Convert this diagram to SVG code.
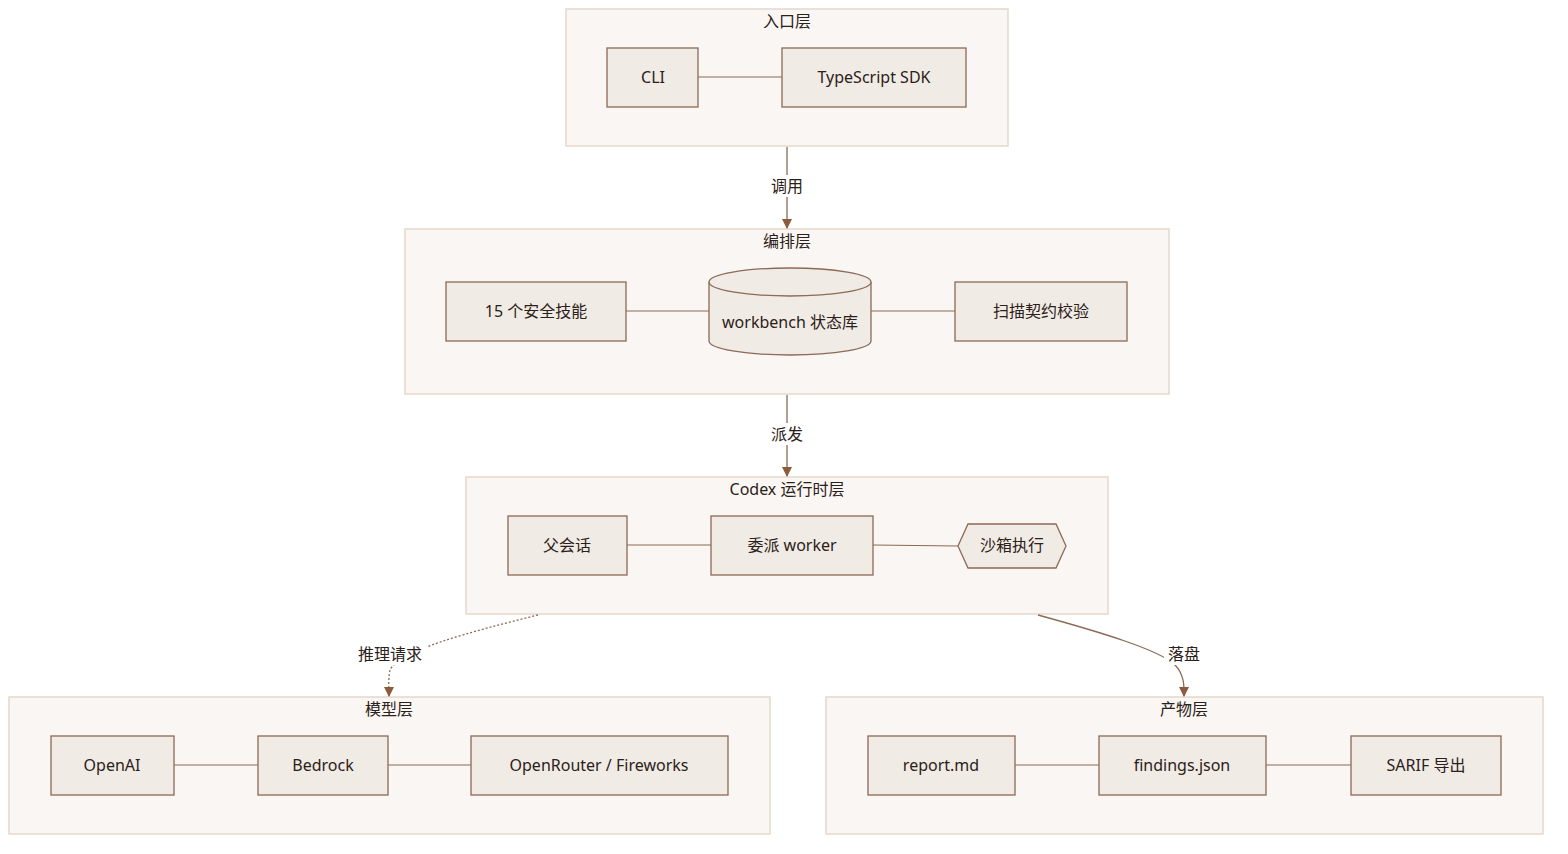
<svg xmlns="http://www.w3.org/2000/svg" width="1568" height="854" viewBox="0 0 1568 854">
<style>
text{font-family:"Noto Sans","Noto Sans CJK SC",sans-serif;font-size:16px;fill:#2b2118;text-anchor:middle;dominant-baseline:central}
.cl{fill:#faf6f3;stroke:#e6d8cc;stroke-width:1.5}
.n{fill:#f1ebe6;stroke:#8c6a55;stroke-width:1.3}
.e{fill:none;stroke:#8c6a55;stroke-width:1.2}
.a{fill:none;stroke:#8c6a55;stroke-width:1.3;marker-end:url(#ar)}
.lb{fill:#fff}
</style>
<defs><marker id="ar" viewBox="0 0 10 10" refX="9" refY="5" markerWidth="8" markerHeight="8" orient="auto"><path d="M0,0L10,5L0,10z" fill="#8c5a3c"/></marker></defs>
<rect width="1568" height="854" fill="#fff"/>
<g id="clusters">
<g id="entry"><rect class="cl" x="566" y="9" width="442" height="137"/><text x="787" y="21">入口层</text></g>
<g id="orch"><rect class="cl" x="405" y="229" width="764" height="165"/><text x="787" y="241">编排层</text></g>
<g id="codex"><rect class="cl" x="466" y="477" width="642" height="137"/><text x="787" y="489">Codex 运行时层</text></g>
<g id="model"><rect class="cl" x="9" y="697" width="761" height="137"/><text x="389" y="709">模型层</text></g>
<g id="artifact"><rect class="cl" x="826" y="697" width="717" height="137"/><text x="1184" y="709">产物层</text></g>
</g>
<g id="connectors">
<path class="e" d="M698,77H782"/>
<path class="e" d="M626,311H710M870,311H955"/>
<path class="e" d="M627,545H711M873,545L958,546"/>
<path class="e" d="M174,765H258M388,765H471"/>
<path class="e" d="M1015,765H1099M1266,765H1351"/>
<path class="a" d="M787,147V228"/>
<path class="a" d="M787,395V476"/>
<path class="a" d="M538,615C470,632 400,650 390,670C388,680 389,688 389,696" stroke-dasharray="2,2"/>
<path class="a" d="M1038,615C1100,632 1160,650 1175,665C1185,675 1184,688 1184,696"/>
<rect class="lb" x="766" y="175" width="42" height="22"/><text x="787" y="186">调用</text>
<rect class="lb" x="766" y="423" width="42" height="22"/><text x="787" y="434">派发</text>
<rect class="lb" x="353" y="643" width="74" height="22"/><text x="390" y="654">推理请求</text>
<rect class="lb" x="1164" y="643" width="40" height="22"/><text x="1184" y="654">落盘</text>
</g>
<g id="cli"><rect class="n" x="607" y="48" width="91" height="59"/><text x="653" y="77">CLI</text></g>
<g id="sdk"><rect class="n" x="782" y="48" width="184" height="59"/><text x="874" y="77">TypeScript SDK</text></g>
<g id="skills"><rect class="n" x="446" y="282" width="180" height="59"/><text x="536" y="311">15 个安全技能</text></g>
<g id="db"><path class="n" d="M709,282A81,14 0 0 1 871,282V341A81,14 0 0 1 709,341Z"/><path class="n" fill="none" d="M709,282A81,14 0 0 0 871,282"/><text x="790" y="322">workbench 状态库</text></g>
<g id="contract"><rect class="n" x="955" y="282" width="172" height="59"/><text x="1041" y="311">扫描契约校验</text></g>
<g id="parent"><rect class="n" x="508" y="516" width="119" height="59"/><text x="567" y="545">父会话</text></g>
<g id="worker"><rect class="n" x="711" y="516" width="162" height="59"/><text x="792" y="545">委派 worker</text></g>
<g id="sandbox"><path class="n" d="M968,524H1056L1066,546L1056,568H968L958,546Z"/><text x="1012" y="545">沙箱执行</text></g>
<g id="openai"><rect class="n" x="51" y="736" width="123" height="59"/><text x="112" y="765">OpenAI</text></g>
<g id="bedrock"><rect class="n" x="258" y="736" width="130" height="59"/><text x="323" y="765">Bedrock</text></g>
<g id="openrouter"><rect class="n" x="471" y="736" width="257" height="59"/><text x="599" y="765">OpenRouter / Fireworks</text></g>
<g id="report"><rect class="n" x="868" y="736" width="147" height="59"/><text x="941" y="765">report.md</text></g>
<g id="findings"><rect class="n" x="1099" y="736" width="167" height="59"/><text x="1182" y="765">findings.json</text></g>
<g id="sarif"><rect class="n" x="1351" y="736" width="150" height="59"/><text x="1426" y="765">SARIF 导出</text></g>
</svg>
